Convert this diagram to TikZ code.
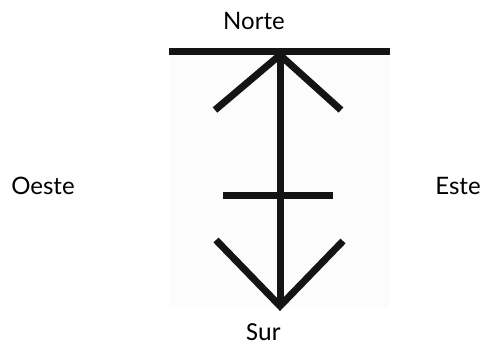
\documentclass[tikz,border=0pt]{standalone}
\usepackage{fontspec}
\setmainfont{Lato}
\newfontfamily\surfont{Carlito}
\begin{document}
\begin{tikzpicture}[x=1pt,y=-1pt,
  stroke/.style={line width=7pt,color=black!92,line cap=butt},
  lbl/.style={font=\fontsize{24}{27}\selectfont,inner sep=0pt,anchor=center}]
\useasboundingbox (0,0) rectangle (482,346);
\fill[white] (0,0) rectangle (482,346);
\fill[black!1] (169,52) rectangle (389,308);
\coordinate (apex) at (280,55);
\coordinate (bot) at (280,306);
\coordinate (barL) at (169,51.5);
\coordinate (barR) at (390,51.5);
\coordinate (armL) at (215,110);
\coordinate (armR) at (341,110);
\coordinate (crossL) at (223,195);
\coordinate (crossR) at (333,195);
\coordinate (vL) at (216,240);
\coordinate (vR) at (343,241);
\draw[stroke] (barL) -- (barR);
\draw[stroke] (280,52) -- (bot);
\draw[stroke,line join=miter] (armL) -- (apex) -- (armR);
\draw[stroke] (crossL) -- (crossR);
\draw[stroke,line join=miter] (vL) -- (bot) -- (vR);
\node[lbl] (norte) at (254,20.5) {Norte};
\node[lbl] (oeste) at (43,185.5) {Oeste};
\node[lbl] (este) at (458,185.5) {Este};
\node[lbl,font=\surfont\fontsize{26}{29}\selectfont] (sur) at (263.5,332) {Sur};
\end{tikzpicture}
\end{document}
